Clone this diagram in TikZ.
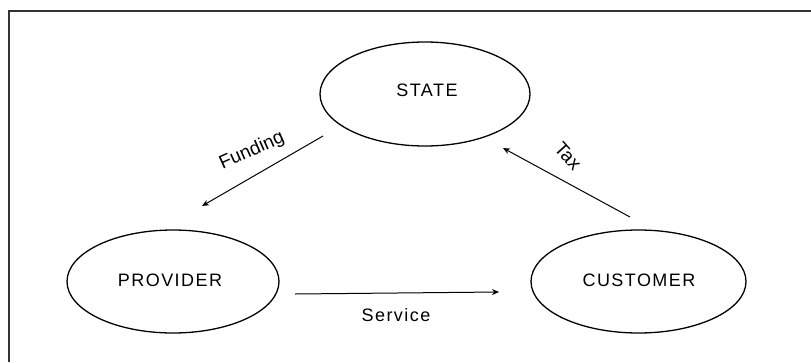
\documentclass[tikz,border=0pt]{standalone}
\usepackage{fontspec}
\setmainfont{Liberation Sans}[LetterSpace=8]
\newfontfamily\plainsans{Liberation Sans}
\usetikzlibrary{arrows.meta,shapes.geometric}
\tikzset{
  ell/.style={draw=black, line width=1.3pt, ellipse, inner sep=0pt},
  lbl/.style={font=\fontsize{18}{18}\selectfont, inner sep=0pt},
  rlbl/.style={font=\plainsans\fontsize{19}{19}\selectfont, inner sep=0pt},
  flow/.style={draw=black, line width=1pt, -{Stealth[length=7pt,width=6pt]}},
  frame/.style={draw=black!80, line width=1.2pt}
}
\begin{document}
\begin{tikzpicture}[x=1pt,y=-1pt]
\useasboundingbox (0,0) rectangle (811,362);
\fill[white] (0,0) rectangle (811,362);
% frame
\coordinate (fl) at (9,362);
\coordinate (tl) at (9,11);
\coordinate (tr) at (811,11);
\draw[frame] (fl) -- (tl) -- (tr);
% ellipses
\node[ell, minimum width=210pt, minimum height=104pt] (state) at (425,94) {};
\node[ell, minimum width=212pt, minimum height=103pt] (provider) at (173,281.5) {};
\node[ell, minimum width=215pt, minimum height=103pt] (customer) at (638.5,281.5) {};
\node[lbl] (statet) at (427,90) {STATE};
\node[lbl] (providert) at (170,280) {PROVIDER};
\node[lbl] (customert) at (639,280) {CUSTOMER};
% arrows
\coordinate (f1) at (323,136);
\coordinate (f2) at (202,206);
\coordinate (t1) at (630,217);
\coordinate (t2) at (503,148);
\coordinate (s1) at (295,294);
\coordinate (s2) at (499,292);
\draw[flow] (f1) -- (f2);
\draw[flow] (t1) -- (t2);
\draw[flow] (s1) -- (s2);
\node[rlbl, rotate=24] (fund) at (252,151) {Funding};
\node[rlbl, rotate=-48] (tax) at (568,156) {Tax};
\node[lbl] (serv) at (396,315) {Service};
\end{tikzpicture}
\end{document}
